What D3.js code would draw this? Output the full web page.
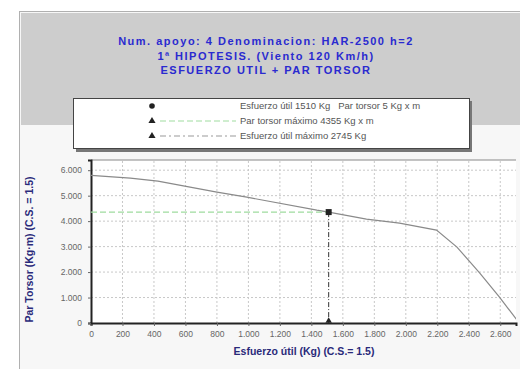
<!DOCTYPE html>
<html>
<head>
<meta charset="utf-8">
<script src="https://cdn.jsdelivr.net/npm/d3@7"></script>
<style>
  body { margin: 0; background: #fff; }
  svg { display: block; font-family: Arial, "Liberation Sans", sans-serif; }
</style>
</head>
<body>
<svg id="chart" width="520" height="369"></svg>
<script>
// Curve: esfuerzo util (Kg) vs par torsor (Kg x m)
const esfuerzo = [0, 250, 425, 800, 990, 1435, 1510, 1750, 1960, 2195, 2325, 2470, 2595, 2720];
const parTorsor = [5800, 5690, 5570, 5140, 4940, 4430, 4355, 4080, 3920, 3650, 2980, 1960, 1020, 0];

// Working point and limits
const puntoEsfuerzo = 1510;
const parMaximo = 4355;

const xTicks = [0, 200, 400, 600, 800, 1000, 1200, 1400, 1600, 1800, 2000, 2200, 2400, 2600];
const yTicks = [0, 1000, 2000, 3000, 4000, 5000, 6000];

const titulo = [
  "Num. apoyo: 4 Denominacion: HAR-2500 h=2",
  "1ª HIPOTESIS. (Viento 120 Km/h)",
  "ESFUERZO UTIL + PAR TORSOR"
];
const leyenda = [
  "Esfuerzo útil 1510 Kg   Par torsor 5 Kg x m",
  "Par torsor máximo 4355 Kg x m",
  "Esfuerzo útil máximo 2745 Kg"
];

const svg = d3.select("#chart");
const loc = d3.formatLocale({decimal: ",", thousands: ".", grouping: [3], currency: ["", ""]});
const fmt = loc.format(",d");

// frame and grey title panel
svg.append("rect").attr("x", 19.5).attr("y", 11.5).attr("width", 510).attr("height", 370)
  .attr("fill", "#f7f7f7").attr("stroke", "#b0b0b0");
svg.append("rect").attr("x", 21).attr("y", 13).attr("width", 505).attr("height", 112)
  .attr("fill", "#cdcdcd");

svg.append("g").selectAll("text").data(titulo).join("text")
  .attr("x", 266).attr("y", (d, i) => 45 + i * 14.5)
  .attr("text-anchor", "middle").attr("font-size", 11).attr("font-weight", "bold")
  .attr("letter-spacing", 1.5)
  .attr("fill", "#2a2ad0").text(d => d);

// legend
svg.append("rect").attr("x", 76).attr("y", 101).attr("width", 396).attr("height", 51).attr("fill", "#777");
svg.append("rect").attr("x", 73.5).attr("y", 98.5).attr("width", 396).attr("height", 50)
  .attr("fill", "#fff").attr("stroke", "#444");
const lg = svg.append("g");
const rowY = [106, 121, 136];
lg.append("line").attr("x1", 160).attr("x2", 236).attr("y1", rowY[1]).attr("y2", rowY[1])
  .attr("stroke", "#9fdc9f").attr("stroke-dasharray", "6,3");
lg.append("line").attr("x1", 160).attr("x2", 236).attr("y1", rowY[2]).attr("y2", rowY[2])
  .attr("stroke", "#999").attr("stroke-dasharray", "6,3,2,3");
lg.append("circle").attr("cx", 152).attr("cy", rowY[0]).attr("r", 2.8).attr("fill", "#222");
[1, 2].forEach(i => lg.append("path")
  .attr("d", d3.symbol(d3.symbolTriangle, 22)())
  .attr("transform", `translate(152,${rowY[i]})`).attr("fill", "#222"));
lg.selectAll("text").data(leyenda).join("text")
  .attr("x", 240).attr("y", (d, i) => rowY[i] + 3)
  .attr("font-size", 9.5).attr("fill", "#555")
  .style("white-space", "pre").text(d => d);

// plot
const margin = {left: 91, right: 4, top: 160, bottom: 46};
const W = 520, H = 369;
const x = d3.scaleLinear().domain([0, 2700]).range([margin.left, W - margin.right]);
const y = d3.scaleLinear().domain([0, 6400]).range([H - margin.bottom, margin.top]);

svg.append("rect").attr("x", x(0)).attr("y", y(6400)).attr("width", x(2700) - x(0))
  .attr("height", y(0) - y(6400)).attr("fill", "#fff");

const grid = svg.append("g").attr("stroke", "#c8c8c8").attr("stroke-dasharray", "2,2");
grid.selectAll(".gx").data(xTicks.slice(1)).join("line")
  .attr("x1", d => x(d)).attr("x2", d => x(d)).attr("y1", y(0)).attr("y2", y(6400));
grid.selectAll(".gy").data(yTicks.slice(1)).join("line")
  .attr("x1", x(0)).attr("x2", x(2700)).attr("y1", d => y(d)).attr("y2", d => y(d));

svg.append("line").attr("x1", x(0)).attr("x2", x(2700)).attr("y1", y(6400)).attr("y2", y(6400))
  .attr("stroke", "#888");

// axes
const xAxis = svg.append("g").attr("transform", `translate(0,${y(0)})`)
  .call(d3.axisBottom(x).tickValues(xTicks).tickFormat(fmt).tickSize(3));
const yAxis = svg.append("g").attr("transform", `translate(${x(0)},0)`)
  .call(d3.axisLeft(y).tickValues(yTicks).tickFormat(fmt).tickSize(3));
[xAxis, yAxis].forEach(a => {
  a.select(".domain").attr("stroke", "#222").attr("stroke-width", 2);
  a.selectAll(".tick line").attr("stroke", "#666");
  a.selectAll("text").attr("fill", "#666").attr("font-size", 8.5)
    .attr("font-family", "Arial, 'Liberation Sans', sans-serif");
});
yAxis.selectAll("text").attr("x", -9);
xAxis.selectAll("text").attr("y", 8);

svg.append("text").attr("x", 304).attr("y", 355).attr("text-anchor", "middle")
  .attr("font-size", 10.5).attr("font-weight", "bold").attr("fill", "#2a2a7a")
  .text("Esfuerzo útil (Kg) (C.S.= 1.5)");
svg.append("text").attr("transform", `translate(33,${(y(0) + y(6400)) / 2 + 8}) rotate(-90)`)
  .attr("text-anchor", "middle").attr("font-size", 10.5).attr("font-weight", "bold").attr("fill", "#2a2a7a")
  .text("Par Torsor (Kg·m) (C.S. = 1.5)");

// series
const curva = esfuerzo.map((e, i) => [e, parTorsor[i]]);
svg.append("defs").append("clipPath").attr("id", "clip").append("rect")
  .attr("x", x(0)).attr("y", y(6400)).attr("width", x(2700) - x(0)).attr("height", y(0) - y(6400));
svg.append("path").datum(curva).attr("clip-path", "url(#clip)")
  .attr("d", d3.line().x(d => x(d[0])).y(d => y(d[1])))
  .attr("fill", "none").attr("stroke", "#8a8a8a").attr("stroke-width", 1.2);

svg.append("line").attr("x1", x(0)).attr("x2", x(puntoEsfuerzo))
  .attr("y1", y(parMaximo)).attr("y2", y(parMaximo))
  .attr("stroke", "#9fdc9f").attr("stroke-width", 1.2).attr("stroke-dasharray", "6,3");
svg.append("line").attr("x1", x(puntoEsfuerzo)).attr("x2", x(puntoEsfuerzo))
  .attr("y1", y(parMaximo)).attr("y2", y(0))
  .attr("stroke", "#333").attr("stroke-dasharray", "5,2,1,2");
svg.append("rect").attr("x", x(puntoEsfuerzo) - 3).attr("y", y(parMaximo) - 3)
  .attr("width", 6).attr("height", 6).attr("fill", "#222");
svg.append("path").attr("d", d3.symbol(d3.symbolTriangle, 18)())
  .attr("transform", `translate(${x(puntoEsfuerzo)},${y(0) - 2})`).attr("fill", "#222");
</script>
</body>
</html>
